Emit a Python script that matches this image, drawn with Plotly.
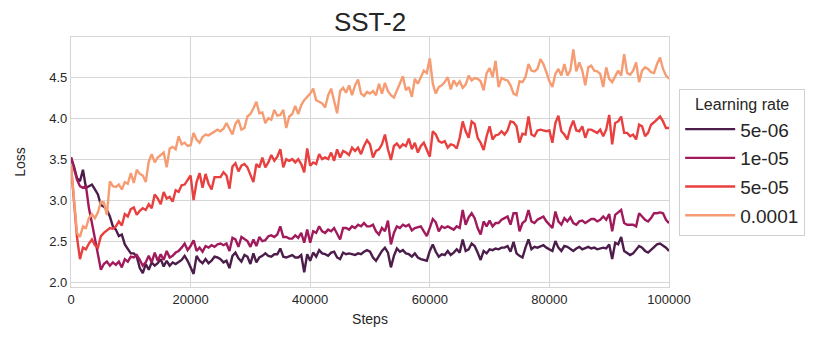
import plotly.graph_objects as go

steps = list(range(0, 100001, 500))

lr_labels = ["5e-06", "1e-05", "5e-05", "0.0001"]
colors = ["#4c1d4b", "#a11a5b", "#e83f3f", "#f69c73"]

loss_5e06 = [
    3.52, 3.41, 3.27, 3.23, 3.37, 3.15, 3.17, 3.19, 3.13, 3.07, 2.94, 2.92, 2.88, 2.80, 2.68, 2.64, 2.56, 2.58, 2.46, 2.41, 2.35, 2.35, 2.31, 2.17, 2.11, 2.22,
    2.15, 2.24, 2.20, 2.23, 2.28, 2.19, 2.26, 2.20, 2.24, 2.22, 2.24, 2.27, 2.32, 2.26, 2.18, 2.10, 2.32, 2.26, 2.23, 2.28, 2.23, 2.26, 2.31, 2.30, 2.28,
    2.24, 2.26, 2.17, 2.32, 2.36, 2.29, 2.25, 2.33, 2.31, 2.22, 2.35, 2.24, 2.30, 2.32, 2.35, 2.32, 2.31, 2.34, 2.34, 2.41, 2.31, 2.30, 2.32, 2.33, 2.30,
    2.30, 2.33, 2.12, 2.34, 2.26, 2.36, 2.31, 2.39, 2.35, 2.34, 2.32, 2.36, 2.37, 2.30, 2.28, 2.36, 2.34, 2.35, 2.34, 2.33, 2.35, 2.34, 2.37, 2.39, 2.37,
    2.30, 2.26, 2.32, 2.38, 2.42, 2.36, 2.18, 2.32, 2.41, 2.37, 2.39, 2.35, 2.34, 2.31, 2.35, 2.30, 2.28, 2.27, 2.26, 2.38, 2.46, 2.37, 2.31, 2.34, 2.33,
    2.38, 2.33, 2.36, 2.40, 2.36, 2.52, 2.38, 2.40, 2.47, 2.44, 2.36, 2.27, 2.38, 2.35, 2.40, 2.39, 2.41, 2.40, 2.42, 2.42, 2.44, 2.37, 2.49, 2.35, 2.32,
    2.30, 2.42, 2.52, 2.40, 2.43, 2.42, 2.44, 2.45, 2.42, 2.40, 2.38, 2.50, 2.42, 2.38, 2.44, 2.43, 2.40, 2.38, 2.41, 2.43, 2.40, 2.42, 2.43, 2.41, 2.42,
    2.40, 2.41, 2.42, 2.41, 2.46, 2.28, 2.48, 2.46, 2.55, 2.38, 2.35, 2.33, 2.35, 2.40, 2.44, 2.42, 2.38, 2.36, 2.39, 2.42, 2.46, 2.47, 2.45, 2.42, 2.38,
]

loss_1e05 = [
    3.52, 3.38, 3.25, 3.17, 3.15, 3.17, 2.90, 2.72, 2.52, 2.30, 2.15, 2.22, 2.25, 2.20, 2.24, 2.21, 2.25, 2.18, 2.28, 2.25, 2.31, 2.30, 2.33, 2.27, 2.20, 2.24,
    2.32, 2.24, 2.36, 2.26, 2.34, 2.27, 2.38, 2.30, 2.32, 2.36, 2.38, 2.42, 2.47, 2.39, 2.44, 2.51, 2.38, 2.42, 2.37, 2.44, 2.42, 2.45, 2.43, 2.46, 2.47,
    2.45, 2.47, 2.38, 2.54, 2.52, 2.43, 2.55, 2.53, 2.50, 2.43, 2.52, 2.44, 2.55, 2.50, 2.51, 2.56, 2.57, 2.55, 2.58, 2.68, 2.55, 2.55, 2.53, 2.53, 2.57,
    2.54, 2.60, 2.48, 2.64, 2.48, 2.62, 2.60, 2.68, 2.62, 2.60, 2.64, 2.62, 2.66, 2.58, 2.52, 2.66, 2.66, 2.64, 2.68, 2.66, 2.70, 2.68, 2.72, 2.68, 2.68,
    2.70, 2.62, 2.58, 2.66, 2.62, 2.75, 2.46, 2.60, 2.68, 2.66, 2.70, 2.68, 2.70, 2.63, 2.66, 2.67, 2.68, 2.62, 2.56, 2.66, 2.77, 2.73, 2.62, 2.68, 2.66,
    2.68, 2.66, 2.64, 2.68, 2.66, 2.88, 2.70, 2.79, 2.84, 2.78, 2.66, 2.58, 2.74, 2.68, 2.75, 2.68, 2.72, 2.72, 2.76, 2.78, 2.80, 2.70, 2.84, 2.84, 2.62,
    2.72, 2.75, 2.88, 2.74, 2.72, 2.76, 2.78, 2.80, 2.74, 2.70, 2.66, 2.86, 2.74, 2.70, 2.78, 2.74, 2.79, 2.72, 2.70, 2.74, 2.75, 2.72, 2.74, 2.77, 2.77,
    2.74, 2.76, 2.80, 2.76, 2.83, 2.62, 2.82, 2.85, 2.88, 2.72, 2.70, 2.70, 2.70, 2.68, 2.84, 2.80, 2.76, 2.74, 2.78, 2.84, 2.84, 2.85, 2.84, 2.76, 2.72,
]

loss_5e05 = [
    3.42, 3.00, 2.55, 2.28, 2.42, 2.40, 2.47, 2.52, 2.45, 2.42, 2.56, 2.60, 2.63, 2.66, 2.65, 2.68, 2.74, 2.69, 2.83, 2.80, 2.89, 2.91, 2.82, 2.87, 2.90, 2.88,
    2.95, 2.90, 3.07, 3.02, 2.95, 3.10, 3.02, 3.04, 2.98, 3.12, 3.10, 3.18, 3.19, 3.25, 3.30, 3.00, 3.22, 3.33, 3.15, 3.32, 3.20, 3.13, 3.28, 3.28, 3.28,
    3.34, 3.30, 3.14, 3.41, 3.45, 3.35, 3.42, 3.44, 3.40, 3.30, 3.22, 3.44, 3.40, 3.52, 3.40, 3.46, 3.55, 3.48, 3.53, 3.62, 3.40, 3.50, 3.48, 3.50, 3.46,
    3.50, 3.44, 3.34, 3.63, 3.42, 3.46, 3.44, 3.56, 3.50, 3.52, 3.50, 3.58, 3.48, 3.62, 3.52, 3.60, 3.58, 3.55, 3.64, 3.60, 3.64, 3.56, 3.66, 3.73, 3.68,
    3.52, 3.60, 3.62, 3.68, 3.80, 3.62, 3.49, 3.66, 3.69, 3.64, 3.68, 3.66, 3.75, 3.62, 3.70, 3.58, 3.66, 3.70, 3.62, 3.53, 3.84, 3.80, 3.72, 3.70, 3.72,
    3.64, 3.68, 3.67, 3.63, 3.76, 3.96, 3.84, 3.76, 3.96, 3.93, 3.76, 3.70, 3.61, 3.78, 3.90, 3.74, 3.79, 3.80, 3.84, 3.80, 3.85, 3.96, 3.95, 3.90, 3.70,
    3.81, 3.80, 4.02, 3.80, 3.78, 3.85, 3.86, 3.85, 3.84, 3.85, 3.70, 3.94, 4.03, 3.84, 3.80, 3.74, 3.88, 3.97, 3.85, 3.84, 3.90, 3.76, 3.86, 3.86, 3.84,
    3.82, 3.86, 3.78, 3.86, 4.04, 3.68, 3.94, 3.96, 4.02, 3.82, 3.82, 3.78, 3.80, 3.74, 3.92, 3.90, 3.78, 3.82, 3.92, 3.95, 3.98, 4.02, 3.96, 3.88, 3.88,
]

loss_1e04 = [
    3.43, 3.00, 2.60, 2.55, 2.68, 2.66, 2.78, 2.83, 2.78, 2.85, 2.98, 2.97, 2.82, 3.23, 3.17, 3.16, 3.19, 3.13, 3.22, 3.20, 3.33, 3.21, 3.37, 3.32, 3.30, 3.22,
    3.47, 3.56, 3.46, 3.52, 3.55, 3.58, 3.40, 3.63, 3.65, 3.62, 3.78, 3.68, 3.70, 3.66, 3.67, 3.82, 3.74, 3.70, 3.77, 3.80, 3.79, 3.81, 3.84, 3.86, 3.84,
    3.87, 3.94, 3.86, 3.80, 3.93, 3.98, 3.86, 3.88, 4.02, 4.05, 4.12, 4.20, 4.06, 4.07, 3.94, 4.00, 3.98, 4.10, 4.03, 4.04, 4.10, 3.88, 4.02, 4.05, 4.15,
    4.05, 4.16, 4.22, 4.26, 4.30, 4.36, 4.22, 4.20, 4.18, 4.13, 4.28, 4.36, 4.22, 4.06, 4.33, 4.37, 4.31, 4.40, 4.28, 4.40, 4.47, 4.30, 4.27, 4.32, 4.30,
    4.33, 4.28, 4.42, 4.30, 4.43, 4.33, 4.28, 4.25, 4.33, 4.42, 4.51, 4.34, 4.38, 4.26, 4.48, 4.42, 4.50, 4.58, 4.55, 4.73, 4.42, 4.30, 4.38, 4.40, 4.44,
    4.50, 4.35, 4.46, 4.40, 4.45, 4.37, 4.41, 4.52, 4.46, 4.49, 4.48, 4.45, 4.34, 4.55, 4.61, 4.50, 4.70, 4.38, 4.49, 4.47, 4.46, 4.40, 4.30, 4.28, 4.45,
    4.44, 4.50, 4.66, 4.58, 4.57, 4.60, 4.72, 4.66, 4.56, 4.45, 4.38, 4.54, 4.60, 4.52, 4.66, 4.52, 4.58, 4.84, 4.57, 4.68, 4.58, 4.40, 4.62, 4.64, 4.58,
    4.57, 4.54, 4.38, 4.62, 4.48, 4.44, 4.52, 4.58, 4.52, 4.78, 4.55, 4.53, 4.58, 4.68, 4.44, 4.58, 4.62, 4.60, 4.56, 4.55, 4.66, 4.74, 4.60, 4.52, 4.48,
]

series = [loss_5e06, loss_1e05, loss_5e05, loss_1e04]

font = "Liberation Sans, Arial, sans-serif"
fig = go.Figure()

for i, (name, vals) in enumerate(zip(lr_labels, series)):
    fig.add_trace(
        go.Scatter(
            x=steps,
            y=vals,
            mode="lines",
            name=name,
            legendgroup=name,
            line=dict(color=colors[i], width=2.4),
        )
    )

# page body adds an 8px offset, margins account for it
fig.update_layout(
    width=830,
    height=350,
    margin=dict(l=63, r=169, t=29, b=71, autoexpand=False),
    paper_bgcolor="white",
    plot_bgcolor="white",
    font=dict(family=font, size=13, color="#262626"),
    title=dict(text="SST-2", x=0.5, xanchor="center", xref="paper",
               y=1 - 14 / 350, yanchor="middle", yref="container",
               font=dict(size=26, color="#262626")),
    showlegend=True,
    legend=dict(
        title=dict(text="Learning rate", font=dict(size=16), side="top center"),
        font=dict(size=19),
        x=1.017, xanchor="left", y=0.5, yanchor="middle",
        bordercolor="#d0d0d0", borderwidth=1,
        tracegroupgap=1,
        itemwidth=50,
        bgcolor="white",
    ),
)

fig.update_xaxes(
    range=[0, 100000],
    tickvals=[0, 20000, 40000, 60000, 80000, 100000],
    tickformat="d",
    title=dict(text="Steps", standoff=8, font=dict(size=14)),
    automargin=False,
    showgrid=True, gridcolor="#d6d6d6", gridwidth=1.2,
    showline=True, mirror=True, linecolor="#d6d6d6", linewidth=1.2,
    zeroline=False, ticks="",
)
fig.update_yaxes(
    range=[1.94, 4.99],
    tickvals=[2.0, 2.5, 3.0, 3.5, 4.0, 4.5],
    tickformat=".1f",
    title=dict(text="Loss", standoff=20, font=dict(size=14)),
    automargin=False,
    showgrid=True, gridcolor="#d6d6d6", gridwidth=1.2,
    showline=True, mirror=True, linecolor="#d6d6d6", linewidth=1.2,
    zeroline=False, ticks="",
)

fig.write_html("out.html")
